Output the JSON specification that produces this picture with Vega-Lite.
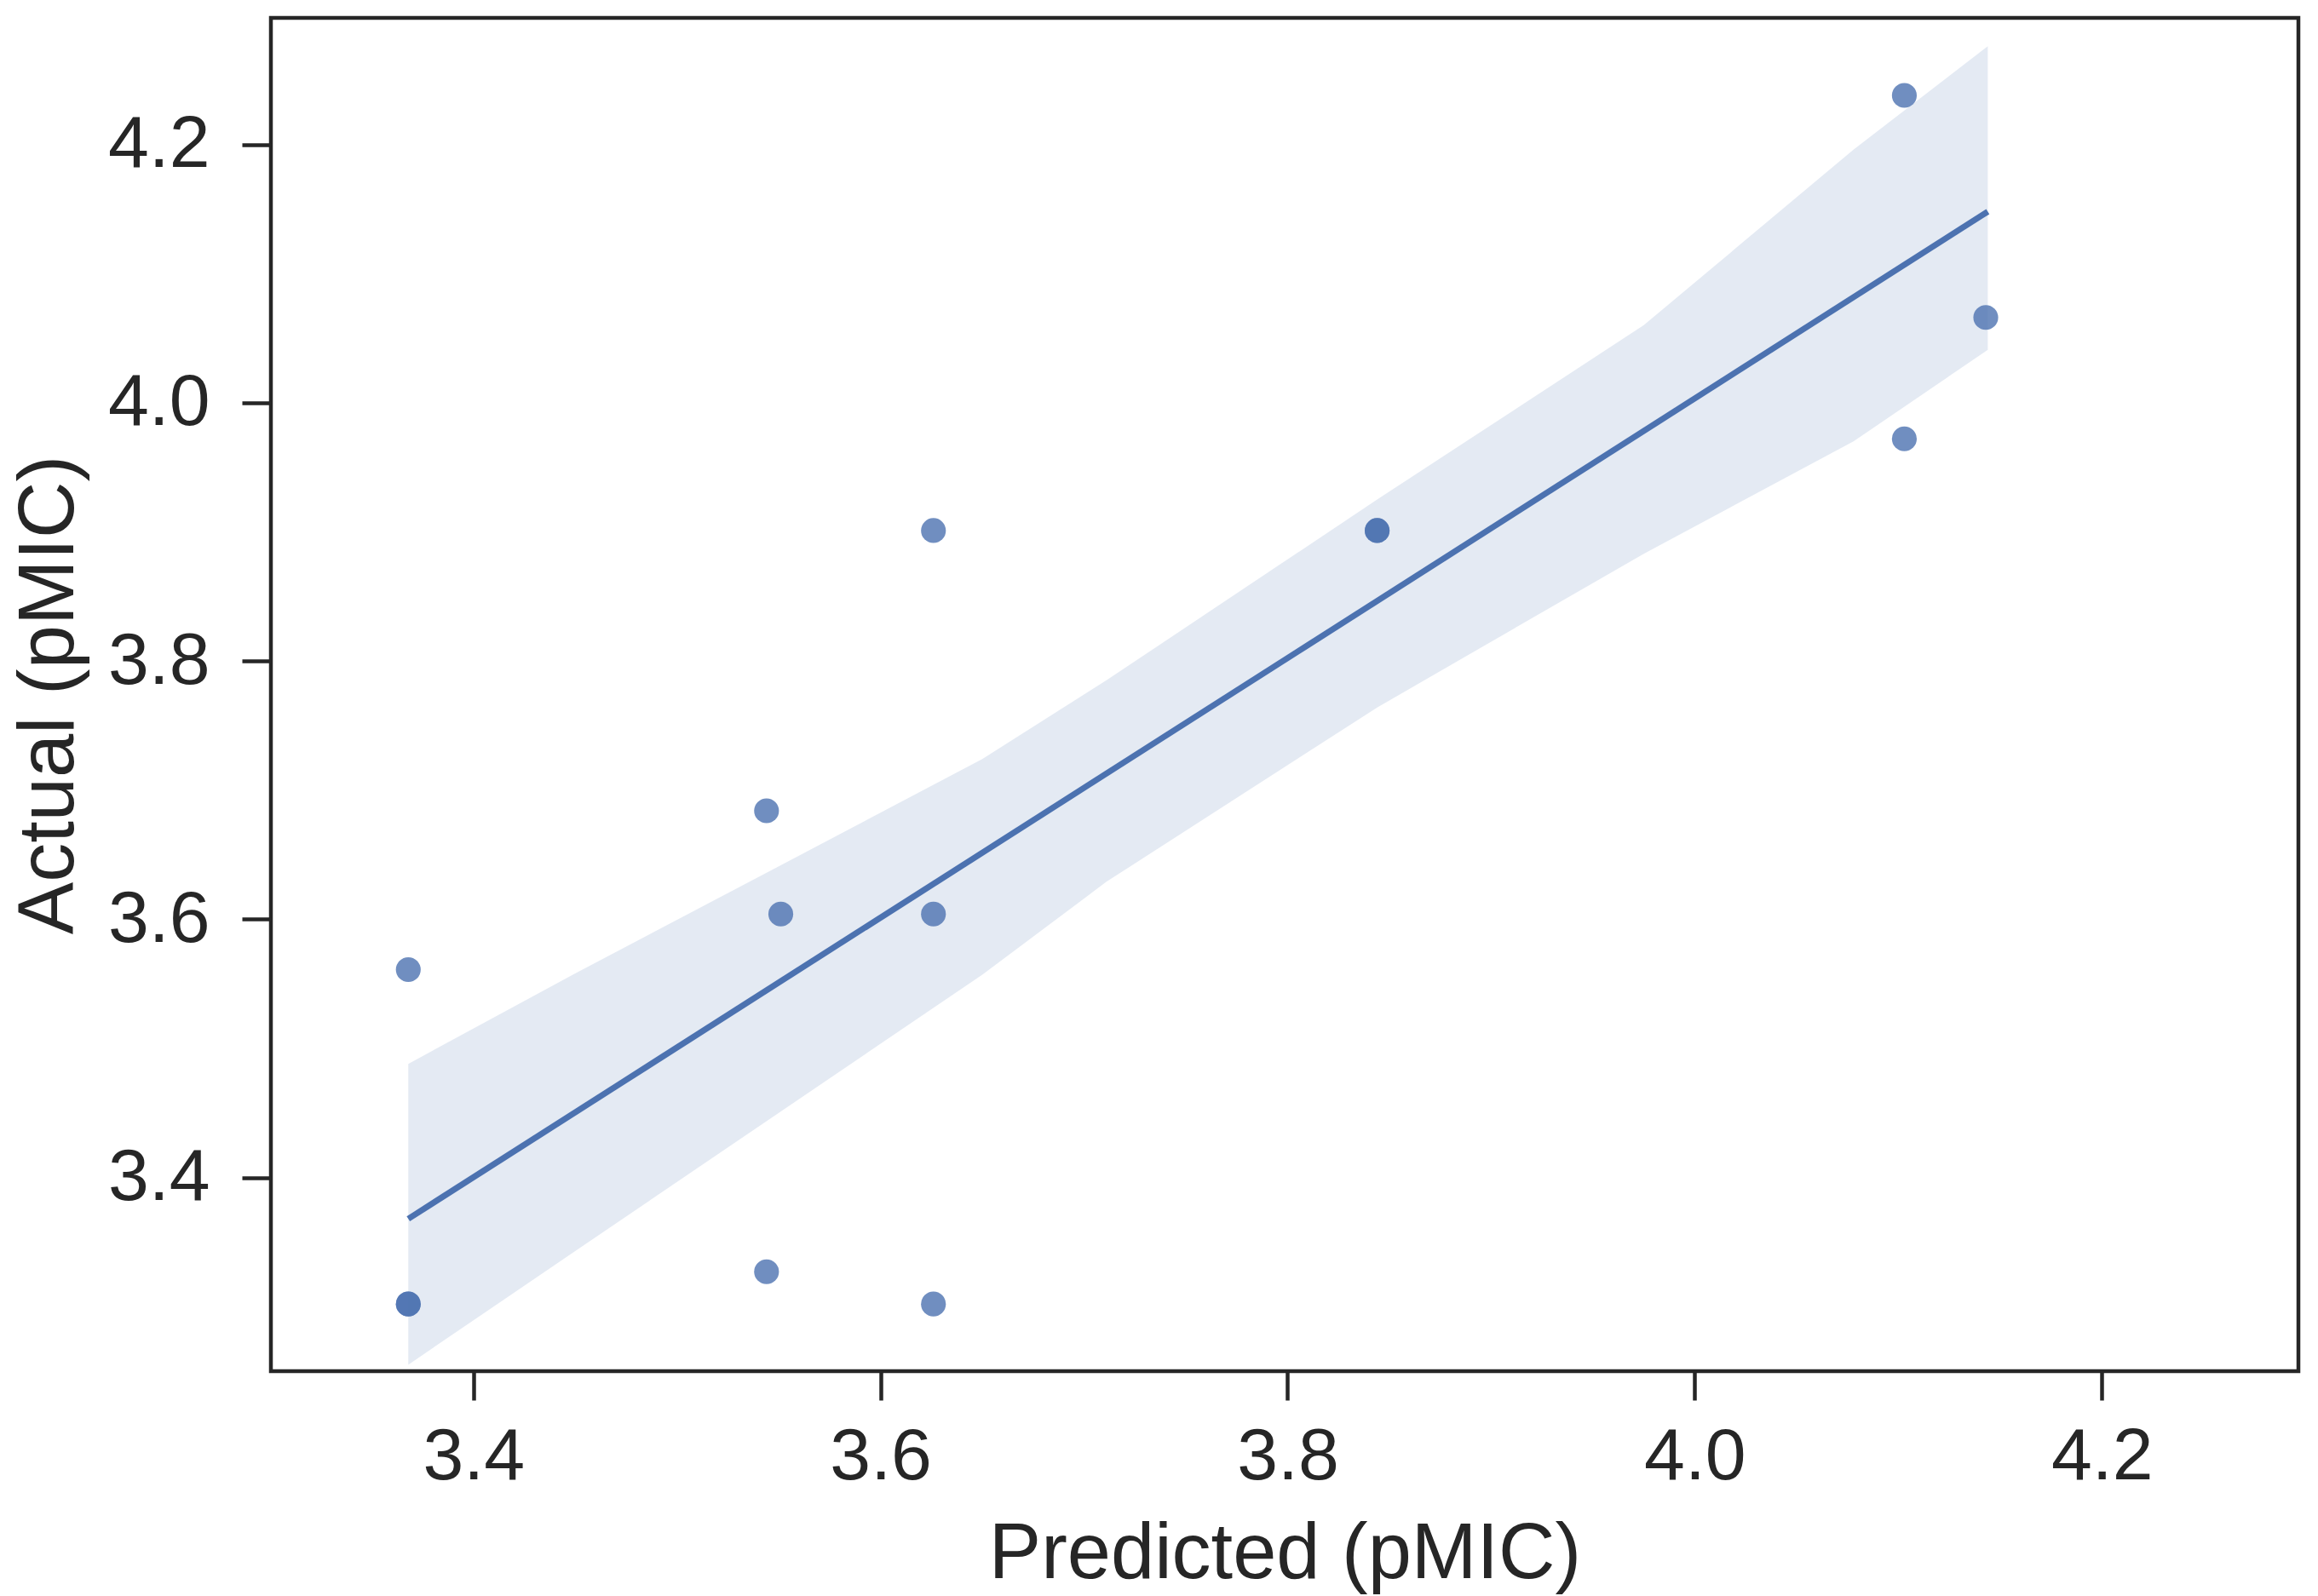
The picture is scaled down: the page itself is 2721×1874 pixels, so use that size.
{
  "$schema": "https://vega.github.io/schema/vega-lite/v6.json",
  "autosize": "none",
  "width": 2380,
  "height": 1589,
  "padding": {"left": 318, "top": 21, "right": 23, "bottom": 264},
  "background": "white",
  "config": {
    "view": {"stroke": "#262626", "strokeWidth": 4.5},
    "axis": {
      "grid": false,
      "domain": false,
      "tickColor": "#262626",
      "tickWidth": 4.5,
      "tickSize": 34,
      "labelFont": "Liberation Sans",
      "labelFontSize": 86,
      "labelColor": "#262626",
      "titleFont": "Liberation Sans",
      "titleFontSize": 92,
      "titleFontWeight": "normal",
      "titleColor": "#262626"
    }
  },
  "datasets": {
    "points": [
      {"predicted": 4.103, "actual": 4.238},
      {"predicted": 4.143, "actual": 4.066},
      {"predicted": 4.103, "actual": 3.972},
      {"predicted": 3.844, "actual": 3.901},
      {"predicted": 3.844, "actual": 3.901},
      {"predicted": 3.626, "actual": 3.901},
      {"predicted": 3.544, "actual": 3.684},
      {"predicted": 3.551, "actual": 3.604},
      {"predicted": 3.626, "actual": 3.604},
      {"predicted": 3.368, "actual": 3.561},
      {"predicted": 3.368, "actual": 3.302},
      {"predicted": 3.368, "actual": 3.302},
      {"predicted": 3.544, "actual": 3.327},
      {"predicted": 3.626, "actual": 3.302}
    ],
    "fit": [
      {"predicted": 3.368, "actual": 3.368},
      {"predicted": 4.144, "actual": 4.148}
    ],
    "band": [
      {"predicted": 3.368, "lo": 3.255, "hi": 3.488},
      {"predicted": 3.45, "lo": 3.343, "hi": 3.558},
      {"predicted": 3.55, "lo": 3.45, "hi": 3.641},
      {"predicted": 3.65, "lo": 3.557, "hi": 3.724},
      {"predicted": 3.711, "lo": 3.629, "hi": 3.785},
      {"predicted": 3.844, "lo": 3.764, "hi": 3.925},
      {"predicted": 3.975, "lo": 3.883, "hi": 4.06},
      {"predicted": 4.078, "lo": 3.97, "hi": 4.196},
      {"predicted": 4.144, "lo": 4.041, "hi": 4.276}
    ]
  },
  "layer": [
    {
      "data": {"name": "band"},
      "mark": {"type": "area", "color": "#4c72b0", "opacity": 0.15},
      "encoding": {
        "x": {"field": "predicted", "type": "quantitative"},
        "y": {"field": "lo", "type": "quantitative"},
        "y2": {"field": "hi"}
      }
    },
    {
      "data": {"name": "fit"},
      "mark": {"type": "line", "color": "#4c72b0", "strokeWidth": 7},
      "encoding": {
        "x": {"field": "predicted", "type": "quantitative"},
        "y": {"field": "actual", "type": "quantitative"}
      }
    },
    {
      "data": {"name": "points"},
      "mark": {"type": "circle", "color": "#4c72b0", "opacity": 0.8, "size": 850},
      "encoding": {
        "x": {
          "field": "predicted",
          "type": "quantitative",
          "title": "Predicted (pMIC)",
          "scale": {"domain": [3.3005, 4.2966], "nice": false, "zero": false},
          "axis": {"values": [3.4, 3.6, 3.8, 4.0, 4.2], "format": ".1f", "labelPadding": 24, "titlePadding": 26}
        },
        "y": {
          "field": "actual",
          "type": "quantitative",
          "title": "Actual (pMIC)",
          "scale": {"domain": [3.25, 4.298], "nice": false, "zero": false},
          "axis": {"values": [3.4, 3.6, 3.8, 4.0, 4.2], "format": ".1f", "labelPadding": 38, "titlePadding": 22}
        }
      }
    }
  ]
}
